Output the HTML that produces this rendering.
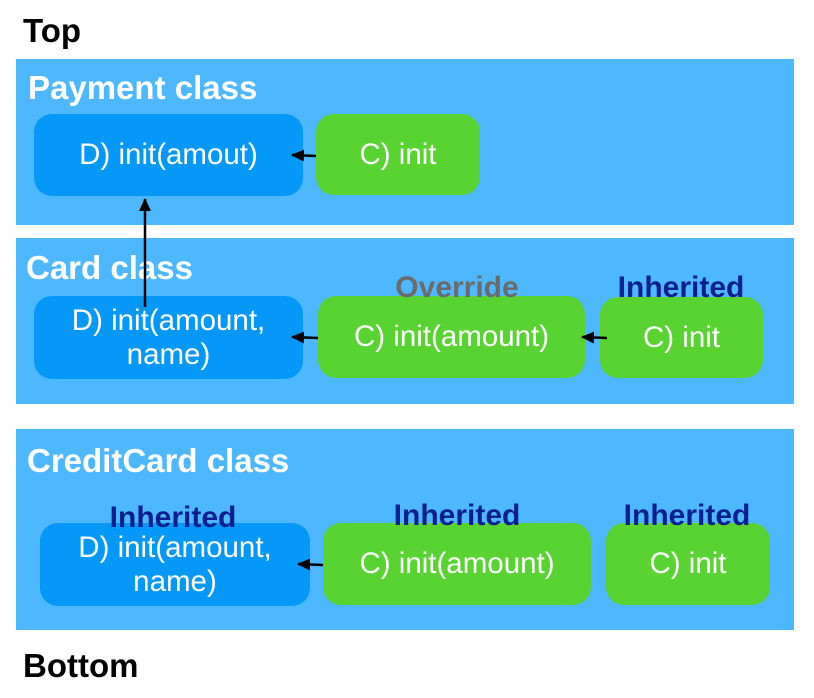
<!DOCTYPE html>
<html><head><meta charset="utf-8"><style>
body{margin:0;width:814px;height:698px;background:#fff;position:relative;overflow:hidden;font-family:"Liberation Sans",sans-serif}
.a{position:absolute}
.p{position:absolute;background:#4db8ff;left:16px;width:778px}
.t{position:absolute;font-weight:bold;color:#fff;font-size:33px;line-height:1}
.b{position:absolute;border-radius:18px;color:#fff;font-size:29.5px;display:flex;align-items:center;justify-content:center;text-align:center;line-height:34px}
.d{background:#0598f8}.g{background:#58d332}
.l{position:absolute;font-weight:bold;font-size:30px;line-height:1;color:#0a1f8f;text-align:center}
</style></head><body>
<div class="a" style="left:23px;top:14px;font-size:33px;font-weight:bold;line-height:1">Top</div>
<div class="p" style="top:59px;height:166px"></div>
<div class="p" style="top:238px;height:166px"></div>
<div class="p" style="top:429px;height:201px"></div>
<div class="t" style="left:28px;top:71px">Payment class</div>
<div class="t" style="left:26px;top:251px">Card class</div>
<div class="t" style="left:27px;top:444px">CreditCard class</div>
<div class="a" style="left:23px;top:649px;font-size:33px;font-weight:bold;line-height:1">Bottom</div>

<div class="b d" style="left:34px;top:114px;width:269px;height:82px">D) init(amout)</div>
<div class="b g" style="left:316px;top:114px;width:164px;height:81px">C) init</div>

<div class="b d" style="left:34px;top:296px;width:269px;height:83px">D) init(amount,<br>name)</div>
<div class="b g" style="left:318px;top:296px;width:267px;height:82px">C) init(amount)</div>
<div class="b g" style="left:600px;top:297px;width:163px;height:81px">C) init</div>
<div class="l" style="left:357px;top:273px;width:200px;color:#6b6b6b">Override</div>
<div class="l" style="left:581px;top:273px;width:200px">Inherited</div>

<div class="b d" style="left:40px;top:523px;width:270px;height:83px">D) init(amount,<br>name)</div>
<div class="b g" style="left:323px;top:523px;width:268px;height:82px">C) init(amount)</div>
<div class="b g" style="left:606px;top:523px;width:164px;height:82px">C) init</div>
<div class="l" style="left:73px;top:503px;width:200px">Inherited</div>
<div class="l" style="left:357px;top:501px;width:200px">Inherited</div>
<div class="l" style="left:587px;top:501px;width:200px">Inherited</div>

<svg class="a" style="left:0;top:0" width="814" height="698">
<defs><marker id="m2" markerWidth="14" markerHeight="12" refX="12" refY="6" orient="auto" markerUnits="userSpaceOnUse"><path d="M0,0L13,6L0,12z" fill="#000"/></marker></defs>
<g stroke="#000" stroke-width="2.5" fill="none">
<line x1="316" y1="156" x2="292" y2="155" marker-end="url(#m2)"/>
<line x1="318" y1="338" x2="292" y2="337" marker-end="url(#m2)"/>
<line x1="607" y1="338" x2="582" y2="337" marker-end="url(#m2)"/>
<line x1="323" y1="565" x2="298" y2="564" marker-end="url(#m2)"/>
<line x1="145" y1="307" x2="145" y2="199" marker-end="url(#m2)"/>
</g></svg>
</body></html>
